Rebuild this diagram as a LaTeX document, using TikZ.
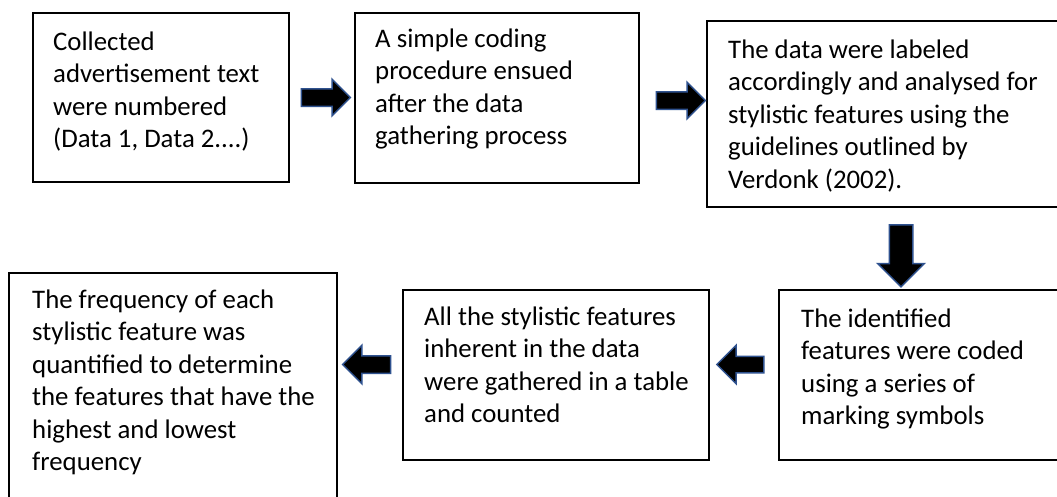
\documentclass[tikz,border=0pt]{standalone}
\usepackage{fontspec}
\setmainfont{Carlito}
\usetikzlibrary{shapes.arrows}
\definecolor{arrowblue}{RGB}{47,82,143}
\newcommand{\bodyfont}{\fontsize{26.8pt}{32.5pt}\selectfont}
\tikzset{
  stepbox/.style={draw=black, line width=1.6pt, rectangle, inner sep=0pt, outer sep=0pt, anchor=north west},
  boxtext/.style={anchor=base west, align=left, inner sep=0pt, font=\bodyfont},
  blockarrow/.style={single arrow, fill=black, draw=arrowblue, line width=1.5pt,
    single arrow tip angle=90},
}
\begin{document}
\begin{tikzpicture}[x=1pt,y=-1pt]
\useasboundingbox (0,0) rectangle (1057,496);
\clip (0,0) rectangle (1057,496);
\fill[white] (0,0) rectangle (1057,496);
% boxes
\node[stepbox, minimum width=256pt, minimum height=169pt] (b1) at (33,13) {};
\node[stepbox, minimum width=284pt, minimum height=170pt] (b2) at (355,13) {};
\node[stepbox, minimum width=363pt, minimum height=186pt] (b3) at (707,21) {};
\node[stepbox, minimum width=291pt, minimum height=170pt] (b4) at (779,290) {};
\node[stepbox, minimum width=306pt, minimum height=170pt] (b5) at (403,290) {};
\node[stepbox, minimum width=328pt, minimum height=240pt] (b6) at (9,273) {};
% texts (anchor base = baseline of the last line)
\node[boxtext] (t1) at ([xshift=20pt,yshift=-134.5pt]b1.north west) {Collected\\advertisement text\\were numbered\\(Data 1, Data 2....)};
\node[boxtext] (t2) at ([xshift=20pt,yshift=-131.5pt]b2.north west) {A simple coding\\procedure ensued\\after the data\\gathering process};
\node[boxtext] (t3) at ([xshift=21pt,yshift=-167pt]b3.north west) {The data were labeled\\accordingly and analysed for\\stylistic features using the\\guidelines outlined by\\Verdonk (2002).};
\node[boxtext] (t4) at ([xshift=22pt,yshift=-134.5pt]b4.north west) {The identified\\features were coded\\using a series of\\marking symbols};
\node[boxtext] (t5) at ([xshift=21pt,yshift=-132.5pt]b5.north west) {All the stylistic features\\inherent in the data\\were gathered in a table\\and counted};
\node[boxtext] (t6) at ([xshift=23pt,yshift=-197.5pt]b6.north west) {The frequency of each\\stylistic feature was\\quantified to determine\\the features that have the\\highest and lowest\\frequency};
% block arrows
\node[blockarrow, inner xsep=0pt, inner ysep=8pt, minimum height=49pt, single arrow head extend=9.5pt] (a1) at (321.5,97.5) {};
\node[blockarrow, inner xsep=0pt, inner ysep=8pt, minimum height=49pt, single arrow head extend=9.5pt] (a2) at (676.5,100.5) {};
\node[blockarrow, inner xsep=11pt, inner ysep=0pt, minimum height=62pt, single arrow head extend=11.5pt, shape border rotate=270] (a3) at (901,250) {};
\node[blockarrow, inner xsep=0pt, inner ysep=7.5pt, minimum height=47pt, single arrow head extend=11pt, shape border rotate=180] (a4) at (744.5,364.5) {};
\node[blockarrow, inner xsep=0pt, inner ysep=8pt, minimum height=48pt, single arrow head extend=10.5pt, shape border rotate=180] (a5) at (371,364.5) {};
\end{tikzpicture}
\end{document}
